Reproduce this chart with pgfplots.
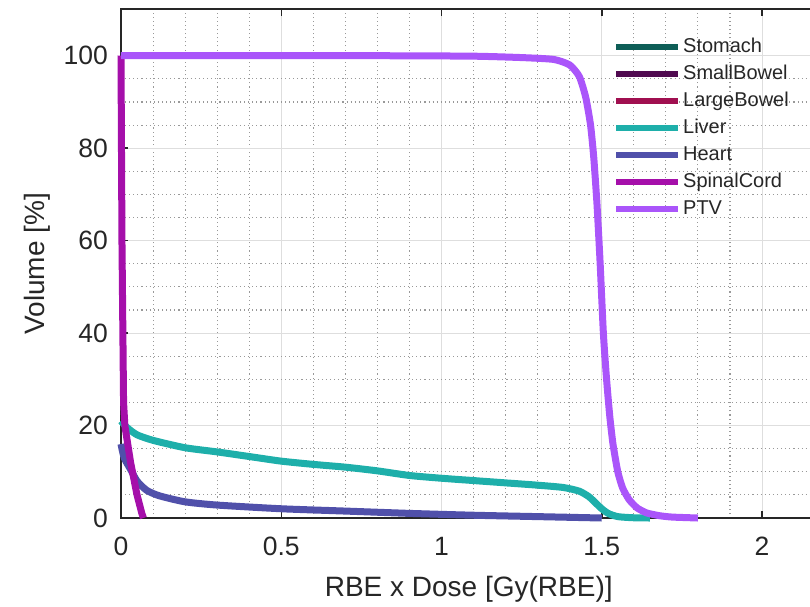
\documentclass[border=0pt]{standalone}
\usepackage{pgfplots}
\pgfplotsset{compat=1.18}
\usepackage{fontspec}
\setmainfont{Liberation Sans}
\definecolor{cStomach}{HTML}{0E5E57}
\definecolor{cSmall}{HTML}{500A50}
\definecolor{cLarge}{HTML}{A00F50}
\definecolor{cLiver}{HTML}{1EAFAA}
\definecolor{cHeart}{HTML}{5050AA}
\definecolor{cSpinal}{HTML}{A50FAA}
\definecolor{cPTV}{HTML}{AA55FA}
\definecolor{axgray}{HTML}{262626}
\begin{document}
\begin{tikzpicture}
\begin{axis}[
  at={(0,0)}, anchor=south west,
  scale only axis,
  width=695.5pt, height=508.5pt,
  xmin=0, xmax=2.17, ymin=0, ymax=110,
  clip=false,
  xtick={0,0.5,1,1.5,2},
  ytick={0,20,40,60,80,100},
  minor x tick num=4,
  minor y tick num=3,
  grid=both,
  major grid style={color=black!13, line width=1pt},
  minor grid style={color=black!40, line width=1.1pt, dash pattern=on 1.1pt off 3pt},
  tick align=inside,
  major tick length=7pt,
  minor tick length=0pt,
  tick style={color=axgray, line width=1.5pt},
  axis line style={color=axgray, line width=2pt},
  /pgf/number format/assume math mode=true,
  ticklabel style={font=\fontsize{26.5}{30}\selectfont, text=axgray},
  xticklabel style={inner sep=0pt, anchor=north, yshift=-19pt},
  yticklabel style={inner sep=0pt, anchor=east, xshift=-13pt},
  xlabel={RBE x Dose [Gy(RBE)]},
  ylabel={Volume [\%]},
  label style={font=\fontsize{28}{32}\selectfont, text=axgray, inner sep=0pt},
  xlabel style={at={([yshift=-58pt]axis description cs:0.5,0)}, anchor=north},
  ylabel style={at={([xshift=-70pt]axis description cs:0,0.5)}, anchor=south, rotate=0},
  legend cell align=left,
  legend style={at={(axis cs:1.535,103.9)}, anchor=north west, draw=none, fill=none,
    inner sep=0pt, row sep=8pt,
    font=\fontsize{20}{24}\selectfont, text=axgray,
    nodes={inner sep=0pt, text height=15pt, text depth=4pt},
    /tikz/every odd column/.append style={column sep=2pt}},
  legend image code/.code={\draw[#1, line width=6pt] (0pt,0pt) -- (62pt,0pt);},
  every axis plot/.append style={line width=7pt, line join=round},
]
\addlegendimage{cStomach}
\addlegendentry{Stomach}
\addlegendimage{cSmall}
\addlegendentry{SmallBowel}
\addlegendimage{cLarge}
\addlegendentry{LargeBowel}

\addplot[cLiver, smooth, tension=0.4] coordinates {
(0,21)(0.02,19.5)(0.05,18)(0.1,16.8)(0.2,15.2)(0.3,14.3)(0.4,13.3)(0.5,12.3)
(0.6,11.6)(0.7,11)(0.8,10.2)(0.9,9.2)(1.0,8.6)(1.1,8.1)(1.2,7.6)(1.3,7.1)
(1.38,6.6)(1.43,5.8)(1.46,4.6)(1.48,3.3)(1.5,2)(1.52,1)(1.55,0.3)(1.6,0.05)(1.65,0)};
\addlegendentry{Liver}

\addplot[cHeart, smooth, tension=0.4] coordinates {
(0,16)(0.01,13)(0.03,10.5)(0.05,8)(0.08,6)(0.12,4.8)(0.2,3.5)(0.3,2.8)
(0.5,2)(0.7,1.5)(0.9,1.0)(1.1,0.6)(1.3,0.3)(1.5,0)};
\addlegendentry{Heart}

\addplot[cSpinal] coordinates {
(0,100)(0.003,60)(0.008,25)(0.012,20)(0.03,12)(0.05,5)(0.065,1)(0.07,0)};
\addlegendentry{SpinalCord}

\addplot[cPTV, smooth, tension=0.35] coordinates {
(0,100)(0.8,100)(1.1,99.9)(1.25,99.6)(1.35,99.2)(1.40,98)(1.43,95.5)(1.45,91)
(1.465,85)(1.475,78)(1.485,68)(1.495,55)(1.505,40)(1.515,30)(1.525,22)(1.535,16)
(1.55,10)(1.565,6.5)(1.585,4)(1.61,2.2)(1.64,1.1)(1.68,0.5)(1.72,0.2)(1.80,0)};
\addlegendentry{PTV}
\end{axis}
\pgfresetboundingbox
\path[use as bounding box] (-121pt,-88pt) rectangle (689pt,518pt);
\end{tikzpicture}
\end{document}
